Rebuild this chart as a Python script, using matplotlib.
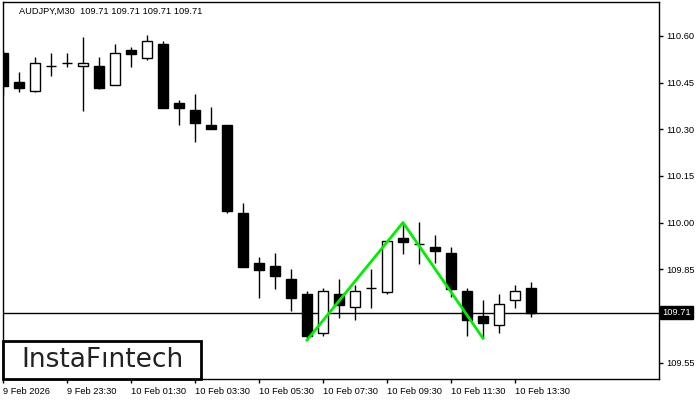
import numpy as np
import matplotlib.pyplot as plt

plt.rcParams['font.family'] = ['Liberation Sans', 'DejaVu Sans']

# AUDJPY M30 candles (index 0 = first visible bar)
opens = [110.546, 110.452, 110.422, 110.503, 110.513, 110.503, 110.504, 110.441, 110.555, 110.530,
         110.575, 110.385, 110.363, 110.314, 110.313, 110.031, 109.870, 109.860, 109.819, 109.770,
         109.646, 109.770, 109.728, 109.790, 109.778, 109.950, 109.930, 109.922, 109.901, 109.779,
         109.699, 109.670, 109.750, 109.790]
highs = [110.550, 110.484, 110.532, 110.546, 110.546, 110.595, 110.532, 110.575, 110.565, 110.604,
         110.584, 110.394, 110.413, 110.373, 110.313, 110.064, 109.890, 109.902, 109.851, 109.781,
         109.791, 109.819, 109.800, 109.851, 109.941, 110.000, 110.002, 109.960, 109.922, 109.790,
         109.750, 109.770, 109.799, 109.809]
lows = [110.410, 110.420, 110.420, 110.471, 110.501, 110.360, 110.428, 110.441, 110.501, 110.521,
        110.369, 110.312, 110.260, 110.302, 110.030, 109.858, 109.759, 109.787, 109.717, 109.622,
        109.636, 109.694, 109.687, 109.726, 109.770, 109.899, 109.868, 109.869, 109.760, 109.636,
        109.628, 109.646, 109.726, 109.697]
closes = [110.440, 110.431, 110.513, 110.503, 110.513, 110.513, 110.431, 110.545, 110.543, 110.584,
          110.369, 110.369, 110.321, 110.302, 110.038, 109.858, 109.849, 109.829, 109.759, 109.636,
          109.780, 109.736, 109.780, 109.790, 109.941, 109.939, 109.930, 109.910, 109.787, 109.688,
          109.678, 109.737, 109.779, 109.710]

# double bottom pattern: (bar index, price)
pattern_idx = [19, 25, 30]
pattern_price = [109.622, 110.000, 109.628]

last_price = 109.71
price_ticks = [110.60, 110.45, 110.30, 110.15, 110.00, 109.85, 109.55]
time_tick_idx = [0, 4, 8, 12, 16, 20, 24, 28, 32]
time_labels = ["9 Feb 2026", "9 Feb 23:30", "10 Feb 01:30", "10 Feb 03:30", "10 Feb 05:30",
               "10 Feb 07:30", "10 Feb 09:30", "10 Feb 11:30", "10 Feb 13:30"]

W, H = 700, 400
fig = plt.figure(figsize=(7, 4), dpi=100)
ax = fig.add_axes([3 / W, 1 - 379 / H, 656 / W, 377 / H])

x = np.arange(len(opens))
body_w = 0.6
for i in x:
    o, h, l, c = opens[i], highs[i], lows[i], closes[i]
    ax.vlines(i, l, h, color="black", lw=1, zorder=2)
    if abs(c - o) < 0.002:
        ax.hlines(o, i - body_w / 2, i + body_w / 2, color="black", lw=1, zorder=3)
    elif c > o:
        ax.bar(i, c - o, bottom=o, width=body_w, facecolor="white", edgecolor="black", lw=1, zorder=3)
    else:
        ax.bar(i, o - c, bottom=c, width=body_w, facecolor="black", edgecolor="black", lw=1, zorder=3)

ax.plot(pattern_idx, pattern_price, color="#00ee00", lw=2, zorder=4)
ax.axhline(last_price, color="black", lw=1, zorder=1)

ax.set_xlim(0, 41)
ax.set_ylim(109.497, 110.709)

ax.yaxis.tick_right()
ax.set_yticks(price_ticks)
ax.set_yticklabels([f"{p:.2f}" for p in price_ticks])
ax.set_xticks(time_tick_idx)
ax.set_xticklabels(time_labels, ha="left")
ax.tick_params(axis="both", labelsize=6.7, length=3, width=1, pad=2, direction="out")
ax.tick_params(axis="x", pad=3)
for s in ax.spines.values():
    s.set_linewidth(1)

# current price label on the right scale
ax.text(1.005, last_price, f"{last_price:.2f}", transform=ax.get_yaxis_transform(),
        ha="left", va="center", fontsize=6.7, color="white",
        bbox=dict(boxstyle="square,pad=0.2", facecolor="black", edgecolor="black"))

ax.text(16 / 656, 1 - 9 / 377, "AUDJPY,M30  109.71 109.71 109.71 109.71", transform=ax.transAxes,
        ha="left", va="center", fontsize=6.7, color="black")

# watermark box
logo = plt.Rectangle((3 / W, 1 - 379 / H), 198 / W, 38 / H, transform=fig.transFigure,
                     facecolor="white", edgecolor="black", lw=2, zorder=10)
fig.patches.append(logo)
fig.text(102 / W, 1 - 360 / H, "InstaF\u0131ntech", ha="center", va="center",
         fontsize=19, color="#222222", zorder=11, family=["DejaVu Sans"])

fig.savefig("out.png", dpi=100)
